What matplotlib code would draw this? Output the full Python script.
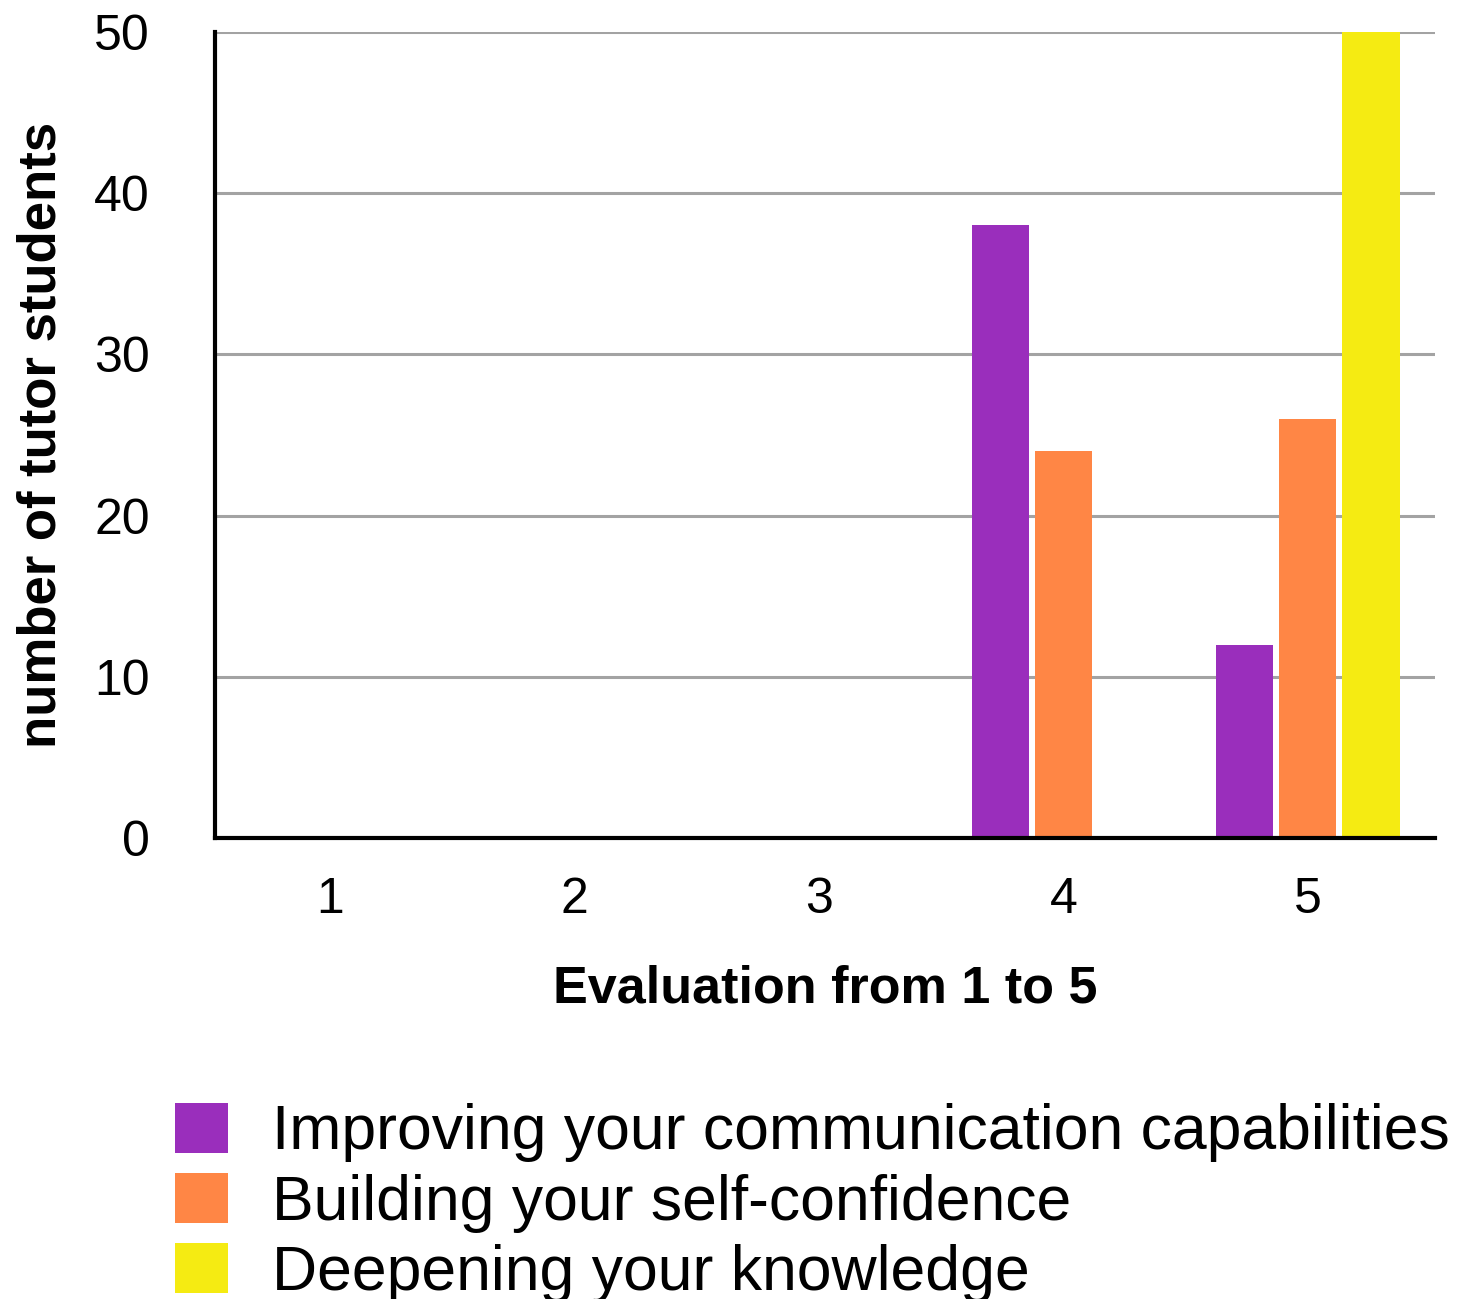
import matplotlib
matplotlib.use('agg')
import matplotlib.pyplot as plt
import numpy as np

plt.rcParams['font.family'] = ['Liberation Sans', 'DejaVu Sans']

# survey counts per evaluation score
scores = [1, 2, 3, 4, 5]
communication = [0, 0, 0, 38, 12]
confidence = [0, 0, 0, 24, 26]
knowledge = [0, 0, 0, 0, 50]
series_names = ['Improving your communication capabilities',
                'Building your self-confidence',
                'Deepening your knowledge']
colors = ['#9A2EBC', '#FF8645', '#F5EB12']

fig = plt.figure(figsize=(14.62, 12.99), dpi=100)
ax = fig.add_axes([0.147, 0.3549, 0.8345, 0.6205])

x = np.array(scores)
width = 0.234
step = 0.258
for i, (vals, name, c) in enumerate(zip([communication, confidence, knowledge], series_names, colors)):
    ax.bar(x + (i - 1) * step, vals, width, color=c, label=name, linewidth=0, zorder=3)

ax.set_xlim(0.53, 5.52)
ax.set_ylim(0, 50)
ax.set_yticks([0, 10, 20, 30, 40, 50])
ax.set_xticks(scores)
ax.yaxis.grid(True, color='#a3a3a3', linewidth=2.2, zorder=0)
ax.set_axisbelow(True)
for s in ['top', 'right']:
    ax.spines[s].set_visible(False)
ax.spines['left'].set_linewidth(3)
ax.spines['bottom'].set_linewidth(3)
ax.spines['left'].set_zorder(4)
ax.spines['bottom'].set_zorder(4)
ax.tick_params(axis='both', length=0, labelsize=36)
ax.tick_params(axis='y', pad=47)
ax.tick_params(axis='x', pad=28)

ax.set_xlabel('Evaluation from 1 to 5', fontsize=37.5, fontweight='bold', labelpad=30)
ax.set_ylabel('number of tutor students', fontsize=38, fontweight='bold', labelpad=20)

fig.legend(loc='upper left', bbox_to_anchor=(0.1197, 0.151), frameon=False,
           fontsize=45, handlelength=0.85, handleheight=0.85, handletextpad=0.7,
           labelspacing=0.17, borderpad=0, borderaxespad=0)

plt.savefig('out.png', dpi=100)
